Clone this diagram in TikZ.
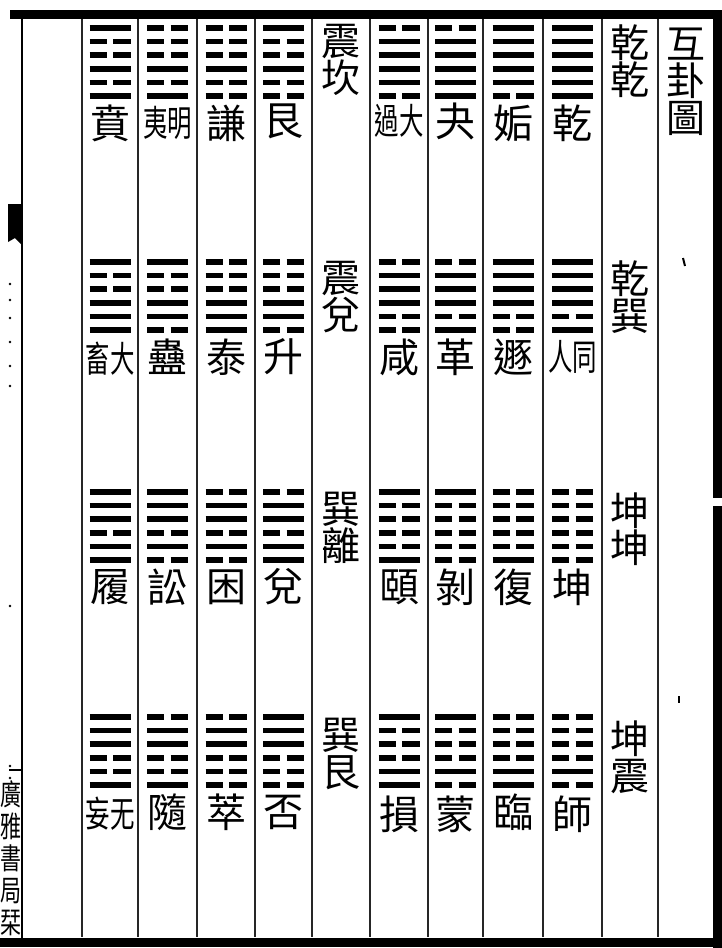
\documentclass[tikz,border=0pt]{standalone}
\usepackage{fontspec}
\newfontfamily\cjk{Noto Sans CJK TC}
\newcommand\narrowtxt[1]{\scalebox{0.68}[1]{#1}}
\newcommand\tallchar[1]{\scalebox{1}[1.4]{#1}}
\newcommand\drawgua[3]{%
  \foreach \b [count=\i from 0] in {#3} {%
    \pgfmathsetmacro\yy{#2+13.6*\i}%
    \ifnum\b=1
      \draw[yao] (#1-20.5,\yy) -- (#1+20.5,\yy);
    \else
      \draw[yao] (#1-20.5,\yy) -- (#1-3.2,\yy);
      \draw[yao] (#1+3.2,\yy) -- (#1+20.5,\yy);
    \fi
  }%
}
\tikzset{
  rule/.style={line width=1.4pt, black!85},
  frameline/.style={line width=9pt, black},
  yao/.style={line width=5.5pt, black, line cap=butt},
  gualabel/.style={font=\cjk\fontsize{40}{40}\selectfont, inner sep=0pt},
  pairlabel/.style={font=\cjk\fontsize{36}{36}\selectfont, inner sep=0pt},
  vlabel/.style={font=\cjk\fontsize{39}{37}\selectfont, align=center, inner sep=0pt},
  sidelabel/.style={font=\cjk\fontsize{21}{32}\selectfont, align=center, inner sep=0pt}
}
\begin{document}
\begin{tikzpicture}[x=1pt,y=-1pt]
\useasboundingbox (0,0) rectangle (722,948);
\fill[white] (0,0) rectangle (722,948);

% column rules
\foreach \xx in {82,138,197,255,312,370,428,483,543,602,658}
  \draw[rule] (\xx,18) -- (\xx,937);

% outer frame
\draw[frameline] (10,14) -- (722,14);
\draw[frameline] (0,942) -- (722,942);
\draw[frameline] (717.5,10) -- (717.5,498);
\draw[frameline] (717.5,506) -- (717.5,948);
\draw[line width=2pt] (22,14) -- (22,942);
\draw[line width=1.6pt] (9,770) -- (22,770);
\fill (8,204) -- (21,204) -- (21,244) -- (15,238) -- (8,242) -- cycle;
\foreach \dy in {284,300,318,342,366,386,606,766,778}
  \fill (10,\dy) circle (1.3);
\draw[line width=2pt] (683,258) -- (685,266);
\draw[line width=1.5pt] (679,696) -- (679,703);

% side imprint
\node[sidelabel] (imprint) at (11,858) {\tallchar{廣}\\\tallchar{雅}\\\tallchar{書}\\\tallchar{局}\\\tallchar{栞}};

% title column
\node[vlabel] (title) at (686,82) {互\\卦\\圖};

% pair labels (right label column)
\node[vlabel] (qq) at (630,61) {乾\\乾};
\node[vlabel] (qx) at (630,297) {乾\\巽};
\node[vlabel] (kk) at (630,529) {坤\\坤};
\node[vlabel] (kz) at (630,757) {坤\\震};
% pair labels (middle label column)
\node[vlabel] (zk) at (341,60) {震\\坎};
\node[vlabel] (zd) at (341,297) {震\\兌};
\node[vlabel] (xl) at (341,528) {巽\\離};
\node[vlabel] (xg) at (341,754) {巽\\艮};

% ---------- row 1 ----------
\drawgua{572.5}{28}{1,1,1,1,1,1}
\drawgua{513}{28}{1,1,1,1,1,0}
\drawgua{455.5}{28}{0,1,1,1,1,1}
\drawgua{399}{28}{0,1,1,1,1,0}
\drawgua{283.5}{28}{1,0,0,1,0,0}
\drawgua{226}{28}{0,0,0,1,0,0}
\drawgua{167.5}{28}{0,0,0,1,0,1}
\drawgua{110}{28}{1,0,0,1,0,1}
\node[gualabel] (qian) at (572.5,123) {乾};
\node[gualabel] (gou) at (513,123) {姤};
\node[gualabel] (guai) at (455.5,121) {夬};
\node[pairlabel] (dagu) at (399,121) {\narrowtxt{過}\narrowtxt{大}};
\node[gualabel] (gen) at (283.5,121) {艮};
\node[gualabel] (qianx) at (226,123) {謙};
\node[pairlabel] (mingyi) at (167.5,123) {\narrowtxt{夷}\narrowtxt{明}};
\node[gualabel] (bi) at (110,123) {賁};

% ---------- row 2 ----------
\drawgua{572.5}{262}{1,1,1,1,0,1}
\drawgua{513}{262}{1,1,1,1,0,0}
\drawgua{455.5}{262}{0,1,1,1,0,1}
\drawgua{399}{262}{0,1,1,1,0,0}
\drawgua{283.5}{262}{0,0,0,1,1,0}
\drawgua{226}{262}{0,0,0,1,1,1}
\drawgua{167.5}{262}{1,0,0,1,1,0}
\drawgua{110}{262}{1,0,0,1,1,1}
\node[pairlabel] (tongren) at (572.5,357) {\narrowtxt{人}\narrowtxt{同}};
\node[gualabel] (dun) at (513,357) {遯};
\node[gualabel] (ge) at (455.5,357) {革};
\node[gualabel] (xian) at (399,357) {咸};
\node[gualabel] (sheng) at (283.5,357) {升};
\node[gualabel] (tai) at (226,357) {泰};
\node[gualabel] (gu) at (167.5,357) {蠱};
\node[pairlabel] (daxu) at (110,359) {\narrowtxt{畜}\narrowtxt{大}};

% ---------- row 3 ----------
\drawgua{572.5}{492}{0,0,0,0,0,0}
\drawgua{513}{492}{0,0,0,0,0,1}
\drawgua{455.5}{492}{1,0,0,0,0,0}
\drawgua{399}{492}{1,0,0,0,0,1}
\drawgua{283.5}{492}{0,1,1,0,1,1}
\drawgua{226}{492}{0,1,1,0,1,0}
\drawgua{167.5}{492}{1,1,1,0,1,0}
\drawgua{110}{492}{1,1,1,0,1,1}
\node[gualabel] (kun) at (572.5,587) {坤};
\node[gualabel] (fu) at (513,587) {復};
\node[gualabel] (bo) at (455.5,587) {剝};
\node[gualabel] (yi) at (399,587) {頤};
\node[gualabel] (dui) at (283.5,587) {兌};
\node[gualabel] (kunx) at (226,587) {困};
\node[gualabel] (song) at (167.5,587) {訟};
\node[gualabel] (lv) at (110,587) {履};

% ---------- row 4 ----------
\drawgua{572.5}{717}{0,0,0,0,1,0}
\drawgua{513}{717}{0,0,0,0,1,1}
\drawgua{455.5}{717}{1,0,0,0,1,0}
\drawgua{399}{717}{1,0,0,0,1,1}
\drawgua{283.5}{717}{1,1,1,0,0,0}
\drawgua{226}{717}{0,1,1,0,0,0}
\drawgua{167.5}{717}{0,1,1,0,0,1}
\drawgua{110}{717}{1,1,1,0,0,1}
\node[gualabel] (shi) at (572.5,814) {師};
\node[gualabel] (lin) at (513,812) {臨};
\node[gualabel] (meng) at (455.5,814) {蒙};
\node[gualabel] (sun) at (399,814) {損};
\node[gualabel] (pi) at (283.5,812) {否};
\node[gualabel] (cui) at (226,812) {萃};
\node[gualabel] (sui) at (167.5,812) {隨};
\node[pairlabel] (wuwang) at (110,814) {\narrowtxt{妄}\narrowtxt{无}};
\end{tikzpicture}
\end{document}
